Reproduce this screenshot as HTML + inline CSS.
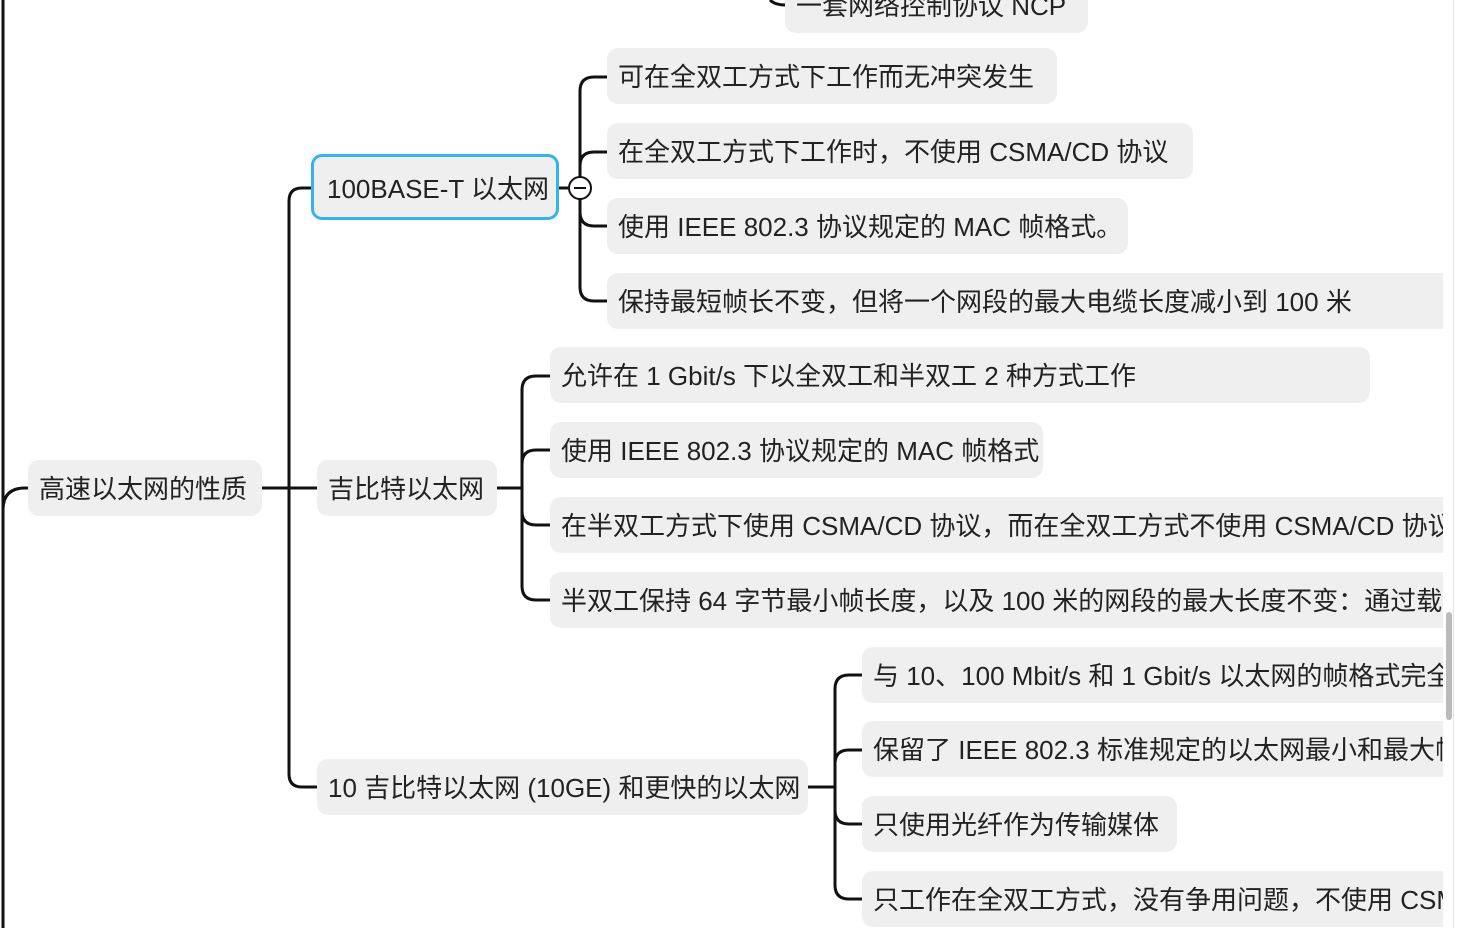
<!DOCTYPE html>
<html><head><meta charset="utf-8">
<style>
html,body{margin:0;padding:0;background:#fff;}
body{width:1457px;height:928px;position:relative;overflow:hidden;font-family:"Liberation Sans","Noto Sans CJK SC",sans-serif;}
#clip{position:absolute;left:0;top:0;width:1443px;height:928px;overflow:hidden;}
.n{position:absolute;background:#efefef;border-radius:11px;color:#222;font-size:26px;line-height:58px;height:56px;padding:0 11px;white-space:nowrap;box-sizing:border-box;}
svg{position:absolute;left:0;top:0;}
</style></head><body>
<div id="clip">
<svg width="1457" height="928" fill="none" stroke="#111" stroke-width="3">
<path d="M3 0 V928"/>
<path d="M3 510 Q3 488 25 488 H28"/>
<path d="M262 488 H317"/>
<path d="M311 188 H302 Q289 188 289 201 V774 Q289 787 302 787 H317"/>
<path d="M559 188 H568"/>
<path d="M607 77 H594 Q580 77 580 91 V287 Q580 301 594 301 H607"/>
<path d="M607 152 H594 Q580 152 580 166"/>
<path d="M580 212 Q580 226 594 226 H607"/>
<path d="M497 488 H522"/>
<path d="M550 376 H536 Q522 376 522 390 V586 Q522 600 536 600 H550"/>
<path d="M550 450 H536 Q522 450 522 464"/>
<path d="M522 511 Q522 525 536 525 H550"/>
<path d="M808 787 H835"/>
<path d="M862 675 H849 Q835 675 835 689 V885 Q835 899 849 899 H862"/>
<path d="M862 750 H849 Q835 750 835 764"/>
<path d="M835 810 Q835 824 849 824 H862"/>
<path d="M770 0 Q775 5 785 5"/>
<circle cx="580" cy="188" r="11" fill="#fff" stroke-width="2"/>
<path d="M574 188 H586" stroke-width="2"/>
</svg>
<div class="n" style="left:785px;top:-23px;width:303px;">一套网络控制协议 NCP</div>
<div class="n" style="left:607px;top:48px;width:450px;">可在全双工方式下工作而无冲突发生</div>
<div class="n" style="left:607px;top:123px;width:586px;">在全双工方式下工作时，不使用 CSMA/CD 协议</div>
<div class="n" style="left:607px;top:198px;width:521px;">使用 IEEE 802.3 协议规定的 MAC 帧格式。</div>
<div class="n" style="left:607px;top:273px;width:860px;">保持最短帧长不变，但将一个网段的最大电缆长度减小到 100 米</div>
<div class="n" style="left:311px;top:154px;width:248px;height:66px;line-height:64px;border:3px solid #35b4ea;padding:0 13px;">100BASE-T 以太网</div>
<div class="n" style="left:550px;top:347px;width:820px;">允许在 1 Gbit/s 下以全双工和半双工 2 种方式工作</div>
<div class="n" style="left:550px;top:422px;width:493px;">使用 IEEE 802.3 协议规定的 MAC 帧格式</div>
<div class="n" style="left:550px;top:497px;width:920px;">在半双工方式下使用 CSMA/CD 协议，而在全双工方式不使用 CSMA/CD 协议</div>
<div class="n" style="left:550px;top:572px;width:920px;">半双工保持 64 字节最小帧长度，以及 100 米的网段的最大长度不变：通过载波延伸</div>
<div class="n" style="left:28px;top:460px;width:234px;">高速以太网的性质</div>
<div class="n" style="left:317px;top:460px;width:180px;">吉比特以太网</div>
<div class="n" style="left:317px;top:759px;width:491px;">10 吉比特以太网 (10GE) 和更快的以太网</div>
<div class="n" style="left:862px;top:647px;width:620px;">与 10、100 Mbit/s 和 1 Gbit/s 以太网的帧格式完全相同</div>
<div class="n" style="left:862px;top:721px;width:620px;">保留了 IEEE 802.3 标准规定的以太网最小和最大帧长</div>
<div class="n" style="left:862px;top:796px;width:315px;">只使用光纤作为传输媒体</div>
<div class="n" style="left:862px;top:871px;width:620px;">只工作在全双工方式，没有争用问题，不使用 CSMA/CD</div>
</div>
<div style="position:absolute;left:1446px;top:612px;width:6px;height:108px;background:#bbb;border-radius:3px;"></div>
<div style="position:absolute;left:1453px;top:0;width:1px;height:928px;background:#e4e4e4;"></div>
</body></html>
